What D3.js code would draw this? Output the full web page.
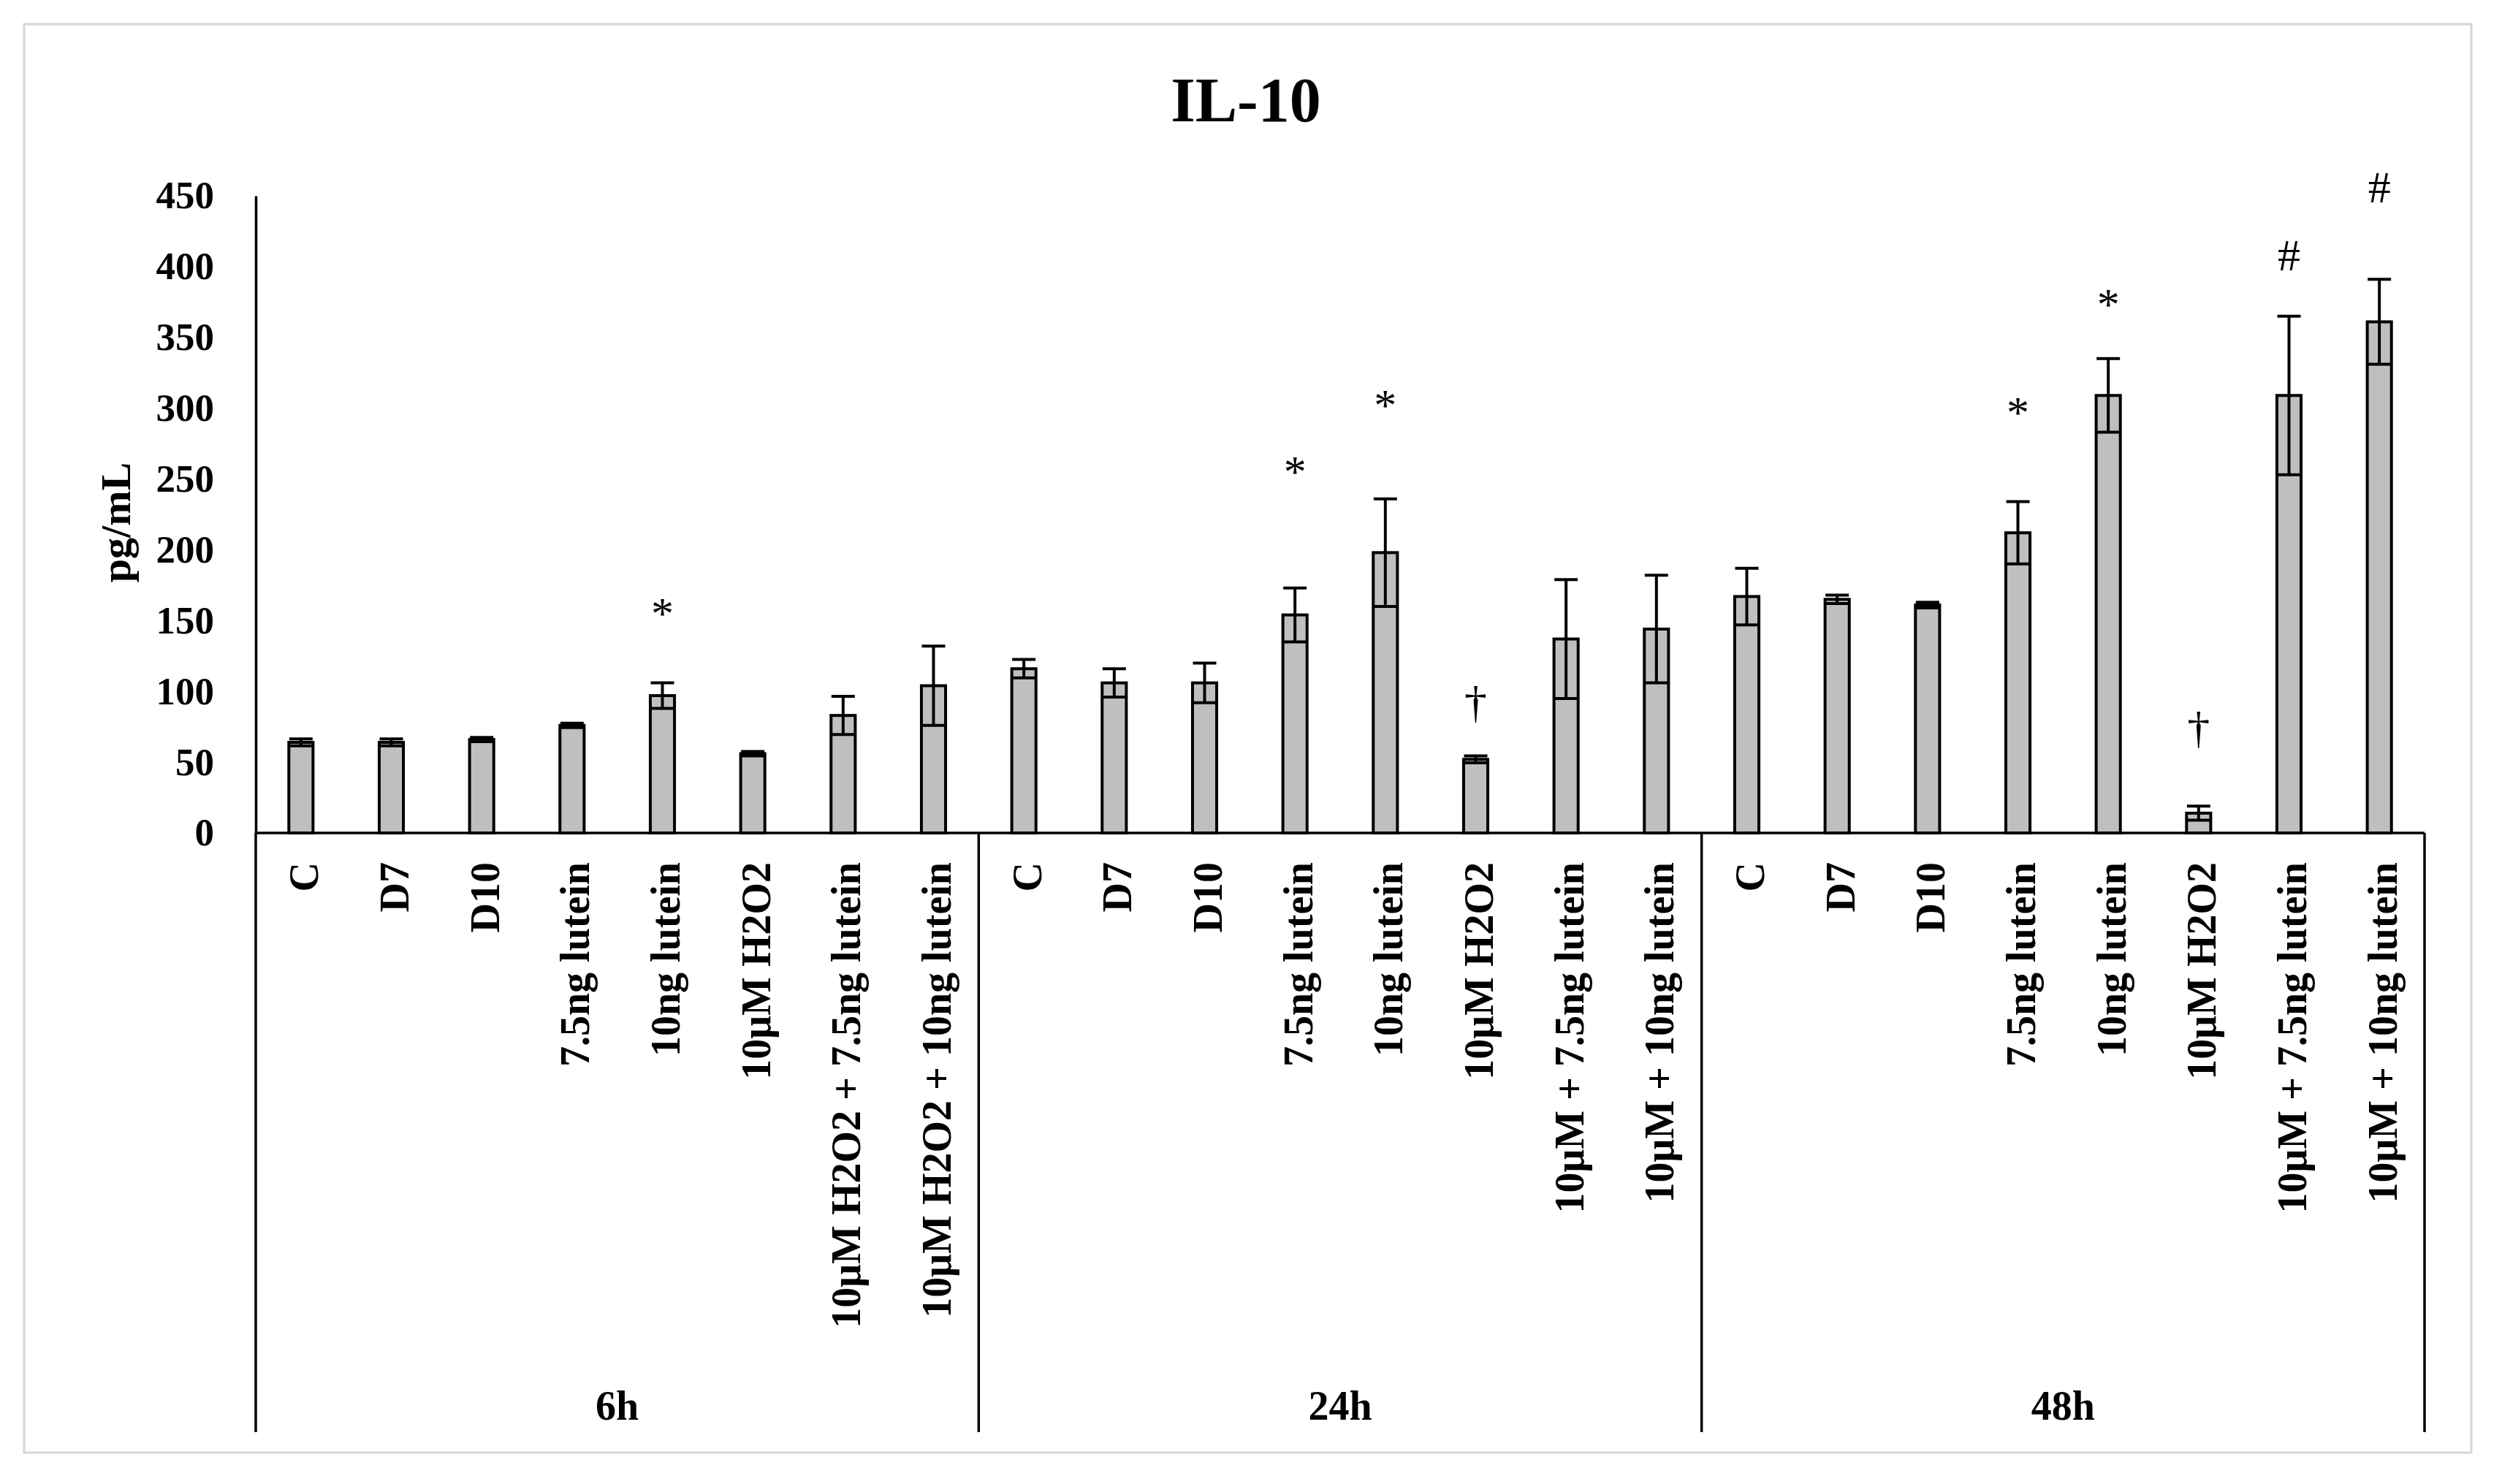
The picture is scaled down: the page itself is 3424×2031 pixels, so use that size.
<!DOCTYPE html>
<html>
<head>
<meta charset="utf-8">
<script src="https://cdn.jsdelivr.net/npm/d3@7"></script>
<style>
  html, body { margin: 0; padding: 0; background: #ffffff; }
  svg { display: block; }
  text { font-family: "Liberation Serif", "Times New Roman", serif; }
</style>
</head>
<body>
<svg id="chart" width="3424" height="2031"></svg>
<script>
// ---------------- data ----------------
const chartTitle = "IL-10";
const yAxisTitle = "pg/mL";
const timePoints = ["6h", "24h", "48h"];
const treatments6h = ["C", "D7", "D10", "7.5ng lutein", "10ng lutein", "10μM H2O2",
  "10μM H2O2 + 7.5ng lutein", "10μM H2O2 + 10ng lutein"];
const treatmentsLater = ["C", "D7", "D10", "7.5ng lutein", "10ng lutein", "10μM H2O2",
  "10μM + 7.5ng lutein", "10μM + 10ng lutein"];
const means6h  = [64, 64, 66, 76, 97, 56, 83, 104];
const errors6h = [2.5, 2.5, 1.5, 1.5, 9, 1.5, 13.5, 28];
const means24h  = [116, 106, 106, 154, 198, 52, 137, 144];
const errors24h = [6.5, 10, 14, 19, 38, 2.5, 42, 38];
const means48h  = [167, 165, 161, 212, 309, 14, 309, 361];
const errors48h = [20, 3, 2, 22, 26, 5, 56, 30];
const yTicks = [0, 50, 100, 150, 200, 250, 300, 350, 400, 450];
// significance marks: [time point, treatment index, symbol, value level]
const marks = [
  ["6h", 4, "*", 160],
  ["24h", 3, "*", 260],
  ["24h", 4, "*", 307],
  ["24h", 5, "†", 90],
  ["48h", 3, "*", 302],
  ["48h", 4, "*", 378],
  ["48h", 5, "†", 72],
  ["48h", 6, "#", 408],
  ["48h", 7, "#", 456]
];

(function () {
// ---------------- build rows ----------------
const labelsByTime = { "6h": treatments6h, "24h": treatmentsLater, "48h": treatmentsLater };
const meansByTime = { "6h": means6h, "24h": means24h, "48h": means48h };
const errorsByTime = { "6h": errors6h, "24h": errors24h, "48h": errors48h };
const rows = [];
timePoints.forEach(t => {
  labelsByTime[t].forEach((lab, i) => {
    rows.push({ key: t + "|" + i, time: t, idx: i, label: lab,
      mean: meansByTime[t][i], err: errorsByTime[t][i] });
  });
});

// ---------------- layout ----------------
const plotLeft = 350, plotRight = 3318, plotTop = 268, plotBase = 1140, sepBottom = 1960;
const svg = d3.select("#chart");

// outer frame
svg.append("rect").attr("x", 33).attr("y", 33).attr("width", 3349).attr("height", 1955)
  .attr("fill", "#ffffff").attr("stroke", "#d6d6d6").attr("stroke-width", 3);

const x = d3.scaleBand().domain(rows.map(d => d.key)).range([plotLeft, plotRight])
  .paddingInner(0.7).paddingOuter(0.35);
const xPos = d3.scaleLinear().domain([0, rows.length]).range([plotLeft, plotRight]);
const y = d3.scaleLinear().domain([0, 450]).range([plotBase, plotTop]);
const cx = d => x(d.key) + x.bandwidth() / 2;

// title
svg.append("text").attr("x", 1705).attr("y", 166).attr("text-anchor", "middle")
  .attr("font-size", 86).attr("font-weight", "bold").attr("fill", "#000").text(chartTitle);

// y axis
const yAxis = d3.axisLeft(y).tickValues(yTicks).tickSize(0).tickPadding(57).tickFormat(d3.format("d"));
const gy = svg.append("g").attr("transform", `translate(${plotLeft},0)`).call(yAxis);
gy.select(".domain").attr("stroke", "#000").attr("stroke-width", 3.5);
gy.selectAll(".tick text").attr("font-size", 53).attr("font-weight", "bold")
  .attr("font-family", "Liberation Serif, serif").attr("fill", "#000");

svg.append("text").attr("transform", "translate(178,715) rotate(-90)")
  .attr("text-anchor", "middle").attr("font-size", 58).attr("font-weight", "bold")
  .attr("fill", "#000").text(yAxisTitle);

// bars
const bw = x.bandwidth();
svg.append("g").selectAll("rect").data(rows).join("rect")
  .attr("x", d => x(d.key) + 2).attr("width", bw - 4)
  .attr("y", d => y(d.mean)).attr("height", d => y(0) - y(d.mean))
  .attr("fill", "#bfbfbf").attr("stroke", "#000").attr("stroke-width", 4);

// error bars
const capW = 32;
const eb = svg.append("g").attr("stroke", "#000").attr("stroke-width", 4);
rows.forEach(d => {
  const x0 = cx(d);
  eb.append("line").attr("x1", x0).attr("x2", x0).attr("y1", y(d.mean - d.err)).attr("y2", y(d.mean + d.err));
  eb.append("line").attr("x1", x0 - capW / 2).attr("x2", x0 + capW / 2).attr("y1", y(d.mean + d.err)).attr("y2", y(d.mean + d.err));
  eb.append("line").attr("x1", x0 - capW / 2).attr("x2", x0 + capW / 2).attr("y1", y(d.mean - d.err)).attr("y2", y(d.mean - d.err));
});

// x axis baseline and group separators
svg.append("line").attr("x1", plotLeft).attr("x2", plotRight).attr("y1", y(0)).attr("y2", y(0))
  .attr("stroke", "#000").attr("stroke-width", 3.5);
const seps = timePoints.map((t, i) => i * 8).concat([rows.length]);
svg.append("g").selectAll("line").data(seps).join("line")
  .attr("x1", d => xPos(d)).attr("x2", d => xPos(d)).attr("y1", y(0)).attr("y2", sepBottom)
  .attr("stroke", "#000").attr("stroke-width", 3.5);

// category labels
svg.append("g").selectAll("text").data(rows).join("text")
  .attr("transform", d => `translate(${cx(d) + 4},1180) rotate(-90)`)
  .attr("text-anchor", "end").attr("dy", "0.35em")
  .attr("font-size", 56).attr("font-weight", "bold").attr("fill", "#000")
  .text(d => d.label);

// time point labels
svg.append("g").selectAll("text").data(timePoints).join("text")
  .attr("x", (d, i) => xPos(i * 8 + 4)).attr("y", 1943).attr("text-anchor", "middle")
  .attr("font-size", 56).attr("font-weight", "bold").attr("fill", "#000").text(d => d);

// significance marks
const symOffset = { "*": 0.48, "#": 0.34, "†": 0.26 };
const markFs = 62;
svg.append("g").selectAll("text").data(marks).join("text")
  .attr("x", d => cx(rows.find(r => r.time === d[0] && r.idx === d[1])))
  .attr("y", d => y(d[3]) + symOffset[d[2]] * markFs)
  .attr("text-anchor", "middle").attr("font-size", markFs).attr("fill", "#000")
  .text(d => d[2]);
})();
</script>
</body>
</html>
